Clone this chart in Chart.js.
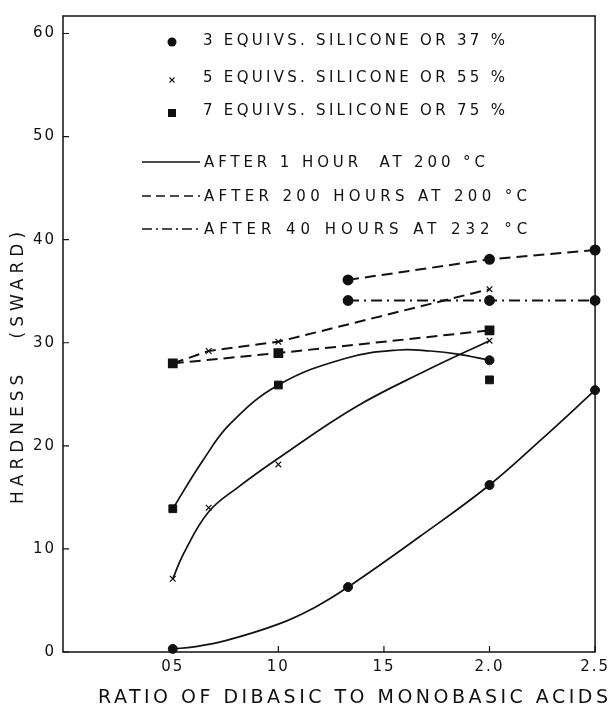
<!DOCTYPE html>
<html>
<head>
<meta charset="utf-8">
<script src="https://cdn.jsdelivr.net/npm/chart.js@4.4.1/dist/chart.umd.min.js"></script>
<style>
    html, body { margin: 0; padding: 0; background: #fff; }
    #wrap { width: 613px; height: 708px; }
</style>
</head>
<body>
<div id="wrap"><canvas id="chart" width="613" height="708"></canvas></div>
<script>
// Hardness (Sward) against ratio of dibasic to monobasic acids
// measured points (markers)
const eq3Ratio = [0.5, 1.33, 2.0, 2.5];
const eq3After1h = [0.3, 6.3, 16.2, 25.4];
const eq3RatioAged = [1.33, 2.0, 2.5];
const eq3After200h = [36.1, 38.1, 39.0];
const eq3After40h = [34.1, 34.1, 34.1];

const eq5Ratio = [0.5, 0.67, 1.0, 2.0];
const eq5After1h = [7.1, 14.0, 18.2, 30.2];
const eq5After200h = [28.0, 29.2, 30.1, 35.2];

const eq7Ratio = [0.5, 1.0, 2.0];
const eq7After1h = [13.9, 25.9, 28.3];
const eq7After200h = [28.0, 29.0, 31.2];
const eq7LoneRatio = [2.0];
const eq7Lone = [26.4];

// hand-drawn smooth curves for the 1 hour series
const eq3CurveRatio = [0.5, 0.6, 0.75, 1.0, 1.17, 1.33, 1.67, 2.0, 2.25, 2.5];
const eq3CurveHard = [0.3, 0.5, 1.1, 2.7, 4.3, 6.3, 11.2, 16.2, 20.7, 25.4];
const eq5CurveRatio = [0.5, 0.55, 0.67, 0.81, 1.0, 1.36, 1.7, 2.0];
const eq5CurveHard = [7.1, 9.5, 13.6, 16.0, 18.8, 23.7, 27.3, 30.2];
const eq7CurveRatio = [0.5, 0.64, 0.77, 1.0, 1.32, 1.57, 1.72, 1.85, 2.0];
const eq7CurveHard = [13.9, 18.5, 22.1, 25.9, 28.5, 29.3, 29.2, 28.9, 28.3];

const xTicks = [0.5, 1.0, 1.5, 2.0, 2.5];
const xTickLabels = ['05', '10', '15', '2.0', '2.5'];
const yTicks = [0, 10, 20, 30, 40, 50, 60];

const markerLegend = ['3 EQUIVS. SILICONE OR 37 %', '5 EQUIVS. SILICONE OR 55 %', '7 EQUIVS. SILICONE OR 75 %'];
const lineLegend = ['AFTER 1 HOUR  AT 200 °C', 'AFTER 200 HOURS AT 200 °C', 'AFTER 40 HOURS AT 232 °C'];
const xTitle = 'RATIO OF DIBASIC TO MONOBASIC ACIDS';
const yTitle = 'HARDNESS   (SWARD)';

const INK = '#111';
const FONT = '"DejaVu Sans", sans-serif';
const DASH = [11, 6];
const DASH_DOT = [11, 5, 2, 5];

const pts = (xs, ys) => xs.map((x, i) => ({ x: x, y: ys[i] }));

const base = {
    borderColor: INK,
    backgroundColor: INK,
    pointBackgroundColor: INK,
    pointBorderColor: INK,
    clip: false,
    fill: false
};
const curve = { ...base, showLine: true, pointRadius: 0, borderWidth: 1.7, tension: 0.4 };
const marks = { ...base, showLine: false };

const datasets = [
    // 1 hour at 200 C, solid curves
    { ...curve, label: 'eq3 1h curve', data: pts(eq3CurveRatio, eq3CurveHard) },
    { ...curve, label: 'eq5 1h curve', data: pts(eq5CurveRatio, eq5CurveHard) },
    { ...curve, label: 'eq7 1h curve', data: pts(eq7CurveRatio, eq7CurveHard) },
    { ...marks, label: 'eq3 1h', data: pts(eq3Ratio, eq3After1h), pointStyle: 'circle', pointRadius: 4.5 },
    { ...marks, label: 'eq5 1h', data: pts(eq5Ratio, eq5After1h), pointStyle: 'crossRot', pointRadius: 4, pointBorderWidth: 1.2 },
    { ...marks, label: 'eq7 1h', data: pts(eq7Ratio, eq7After1h), pointStyle: ['rect', 'rect', 'circle'], pointRadius: [5.5, 5.5, 4.5] },

    // 200 hours at 200 C, dashed
    { ...base, showLine: true, label: 'eq3 200h', data: pts(eq3RatioAged, eq3After200h), pointStyle: 'circle', pointRadius: 4.5, borderWidth: 2, borderDash: DASH },
    { ...base, showLine: true, label: 'eq5 200h', data: pts(eq5Ratio, eq5After200h), pointStyle: 'crossRot', pointRadius: [0, 4, 4, 4], pointBorderWidth: 1.2, borderWidth: 2, borderDash: DASH },
    { ...base, showLine: true, label: 'eq7 200h', data: pts(eq7Ratio, eq7After200h), pointStyle: 'rect', pointRadius: 5.5, borderWidth: 2, borderDash: DASH },

    // 40 hours at 232 C, dash-dot
    { ...base, showLine: true, label: 'eq3 40h', data: pts(eq3RatioAged, eq3After40h), pointStyle: 'circle', pointRadius: 4.5, borderWidth: 1.8, borderDash: DASH_DOT },
    { ...marks, label: 'eq7 other', data: pts(eq7LoneRatio, eq7Lone), pointStyle: 'rect', pointRadius: 5.5 }
];

function spacedText(ctx, text, x, y, width) {
    ctx.letterSpacing = '0px';
    const w = ctx.measureText(text).width;
    const sp = Math.max(0, (width - w) / Math.max(1, text.length - 1));
    ctx.letterSpacing = sp.toFixed(2) + 'px';
    ctx.fillText(text, x, y);
    ctx.letterSpacing = '0px';
}

const paperPlugin = {
    id: 'paperPlugin',
    beforeDraw(chart) {
        chart.ctx.letterSpacing = '2px';
    },
    afterDraw(chart) {
        const ctx = chart.ctx;
        const a = chart.chartArea;
        const xs = chart.scales.x;
        const ys = chart.scales.y;
        ctx.save();
        ctx.letterSpacing = '0px';
        ctx.strokeStyle = INK;
        ctx.fillStyle = INK;
        ctx.setLineDash([]);

        // frame
        ctx.lineWidth = 1.5;
        ctx.strokeRect(a.left, a.top, a.right - a.left, a.bottom - a.top);

        // inward tick marks
        ctx.lineWidth = 1.2;
        ctx.beginPath();
        yTicks.forEach(v => {
            const py = ys.getPixelForValue(v);
            ctx.moveTo(a.left, py);
            ctx.lineTo(a.left + 6, py);
        });
        xTicks.forEach(v => {
            const px = xs.getPixelForValue(v);
            ctx.moveTo(px, a.bottom);
            ctx.lineTo(px, a.bottom - 6);
        });
        ctx.stroke();

        // legend: markers
        ctx.textBaseline = 'middle';
        ctx.textAlign = 'left';
        ctx.font = '15px ' + FONT;
        const rowY = [41, 78, 111];
        markerLegend.forEach((t, i) => spacedText(ctx, t, 203, rowY[i], 302));
        ctx.beginPath();
        ctx.arc(172, 42, 4.5, 0, Math.PI * 2);
        ctx.fill();
        ctx.lineWidth = 1.1;
        ctx.beginPath();
        ctx.moveTo(169.5, 77.5); ctx.lineTo(174.5, 82.5);
        ctx.moveTo(174.5, 77.5); ctx.lineTo(169.5, 82.5);
        ctx.stroke();
        ctx.fillRect(168, 109, 8, 8);

        // legend: line styles
        const lineY = [163, 197, 230];
        const dashes = [[], [9, 5], [10, 4, 2, 4]];
        lineLegend.forEach((t, i) => {
            ctx.setLineDash(dashes[i]);
            ctx.lineWidth = 1.6;
            ctx.beginPath();
            ctx.moveTo(142, lineY[i] - 1);
            ctx.lineTo(200, lineY[i] - 1);
            ctx.stroke();
            ctx.setLineDash([]);
            spacedText(ctx, t, 204, lineY[i], i === 0 ? 281 : 323);
        });

        // axis titles
        ctx.font = '19px ' + FONT;
        spacedText(ctx, xTitle, 98, 698, 510);
        ctx.font = '17px ' + FONT;
        ctx.translate(19, 368);
        ctx.rotate(-Math.PI / 2);
        spacedText(ctx, yTitle, -136, 0, 272);
        ctx.restore();
    }
};

new Chart(document.getElementById('chart'), {
    type: 'scatter',
    data: { datasets: datasets },
    plugins: [paperPlugin],
    options: {
        responsive: false,
        animation: false,
        devicePixelRatio: 1,
        layout: { padding: { left: 0, right: 15, top: 13, bottom: 0 } },
        plugins: { legend: { display: false }, tooltip: { enabled: false } },
        scales: {
            x: {
                type: 'linear',
                min: -0.02,
                max: 2.5,
                afterBuildTicks: scale => { scale.ticks = xTicks.map(v => ({ value: v })); },
                afterFit: scale => { scale.height = 56; },
                grid: { display: false, drawTicks: false },
                border: { display: false },
                ticks: {
                    color: INK,
                    padding: 6,
                    maxRotation: 0,
                    autoSkip: false,
                    font: { family: FONT, size: 15 },
                    callback: v => xTickLabels[xTicks.indexOf(v)] ?? ''
                }
            },
            y: {
                type: 'linear',
                min: 0,
                max: 61.7,
                afterBuildTicks: scale => { scale.ticks = yTicks.map(v => ({ value: v })); },
                afterFit: scale => { scale.width = 63; },
                grid: { display: false, drawTicks: false },
                border: { display: false },
                ticks: {
                    color: INK,
                    padding: 7,
                    font: { family: FONT, size: 15 }
                }
            }
        }
    }
});
</script>
</body>
</html>
